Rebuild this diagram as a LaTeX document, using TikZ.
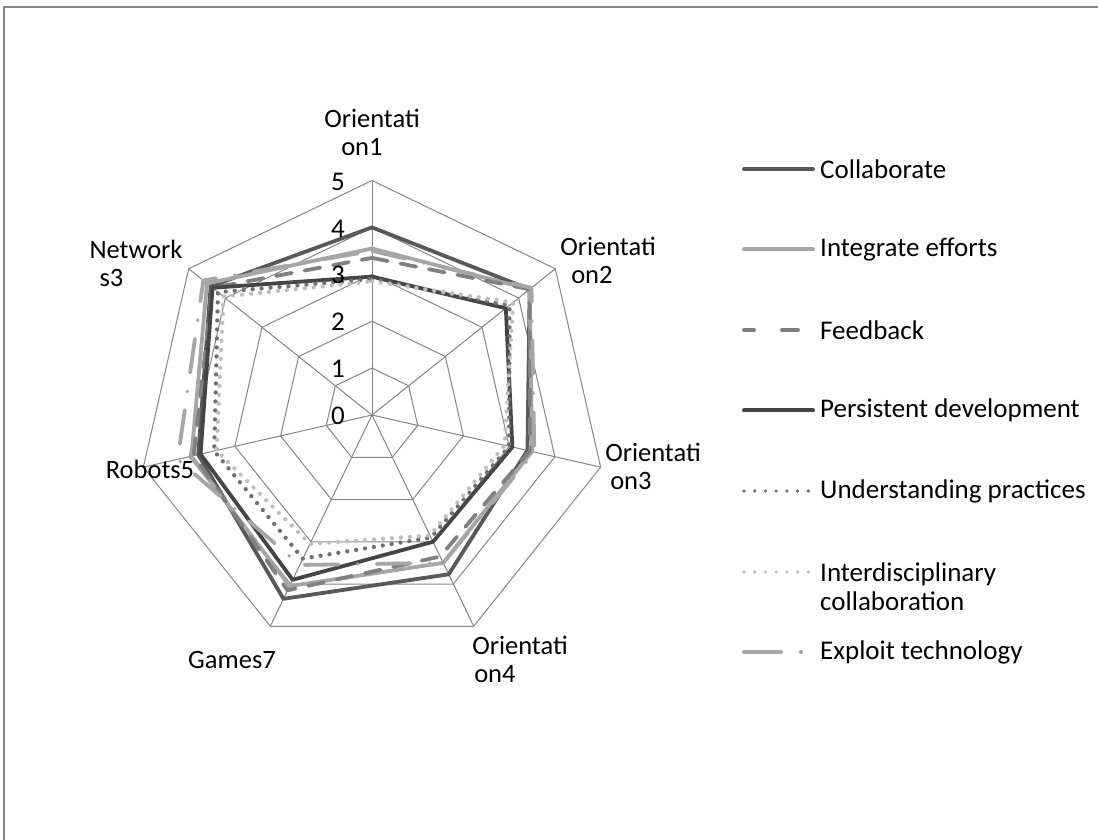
\documentclass[tikz,border=0pt]{standalone}
\usepackage{fontspec}
\setmainfont{Carlito}
\definecolor{gridc}{HTML}{868686}
\definecolor{cA}{HTML}{595959}
\definecolor{cB}{HTML}{A6A6A6}
\definecolor{cC}{HTML}{808080}
\definecolor{cD}{HTML}{454545}
\definecolor{cE}{HTML}{707070}
\definecolor{cF}{HTML}{BFBFBF}
\definecolor{cG}{HTML}{A6A6A6}
\def\U{46.9}
\newcommand\radarpoly[8]{\draw[#1] (90:{#2*\U}) -- (38.5714:{#3*\U}) -- (-12.8571:{#4*\U}) -- (-64.2857:{#5*\U}) -- (-115.7143:{#6*\U}) -- (-167.1429:{#7*\U}) -- (141.4286:{#8*\U}) -- cycle;}
\begin{document}
\begin{tikzpicture}[x=1pt,y=1pt,
  every node/.style={font=\fontsize{27}{29}\selectfont, text=black, inner sep=0pt},
  gridline/.style={draw=gridc, line width=1pt},
  frameline/.style={draw=gridc, line width=1.5pt},
  ser/.style={line width=3.8pt, line join=round},
  sCollab/.style={ser, draw=cA},
  sInteg/.style={ser, draw=cB},
  sFeed/.style={ser, draw=cC, line cap=round, dash pattern=on 16pt off 13pt},
  sPers/.style={ser, draw=cD},
  sUnder/.style={ser, draw=cE, line width=4.3pt, line cap=round, dash pattern=on 0pt off 9pt},
  sInter/.style={ser, draw=cF, line width=4.3pt, line cap=round, dash pattern=on 0pt off 9pt},
  sExpl/.style={ser, draw=cG, line cap=round, dash pattern=on 34pt off 19pt on 0pt off 19pt},
  legtext/.style={anchor=west, align=left},
  catlabel/.style={align=left, font=\fontsize{26.5}{28}\selectfont},
  ticklabel/.style={anchor=center}]
\useasboundingbox (0,0) rectangle (1098,839);
\fill[white] (0,0) rectangle (1098,839);
% chart frame (top and left edges visible)
\draw[frameline] (4,-2) -- (4,832) -- (1100,832);

\begin{scope}[shift={(372,424)}]
  % grid
  \foreach \r in {1,...,5}{
    \draw[gridline] (90:{\r*\U}) -- (38.5714:{\r*\U}) -- (-12.8571:{\r*\U}) -- (-64.2857:{\r*\U}) -- (-115.7143:{\r*\U}) -- (-167.1429:{\r*\U}) -- (141.4286:{\r*\U}) -- cycle;
  }
  \foreach \a in {90,38.5714,-12.8571,-64.2857,-115.7143,-167.1429,141.4286}{
    \draw[gridline] (0,0) -- (\a:{5*\U});
  }
  % series
  \radarpoly{sCollab}{4.0}{4.3}{3.4}{3.77}{4.35}{3.8}{4.4}
  \radarpoly{sInteg}{3.55}{4.3}{3.5}{3.5}{4.05}{3.95}{4.5}
  \radarpoly{sFeed}{3.35}{4.3}{3.45}{3.35}{4.15}{3.9}{4.35}
  \radarpoly{sPers}{2.95}{3.65}{3.07}{3.0}{3.9}{3.75}{4.35}
  \radarpoly{sUnder}{2.9}{3.75}{3.0}{2.9}{3.4}{3.45}{4.2}
  \radarpoly{sInter}{2.85}{3.85}{2.9}{2.85}{3.05}{3.4}{4.05}
  \radarpoly{sExpl}{3.5}{4.35}{3.55}{3.5}{3.55}{4.25}{4.6}
  % tick labels
  \foreach \k in {0,...,5}{
    \node[ticklabel] (t\k) at (-34,{\k*\U-1}) {\k};
  }
\end{scope}

% category labels
\node[catlabel] (o1) at (372,707) {Orientati\\\hspace*{17pt}on1};
\node[catlabel] (o2) at (608,579) {Orientati\\\hspace*{11pt}on2};
\node[catlabel] (o3) at (653,373) {Orientati\\\hspace*{5pt}on3};
\node[catlabel] (o4) at (520,180) {Orientati\\\hspace*{2pt}on4};
\node[catlabel] (g7) at (232,179) {Games7};
\node[catlabel] (r5) at (150,370) {Robots5};
\node[catlabel] (n3) at (136,576) {Network\\\hspace*{10pt}s3};

% legend
\node[legtext] (l1) at (820,670) {Collaborate};
\node[legtext] (l2) at (820,589.5) {Integrate efforts};
\node[legtext] (l3) at (820,509) {Feedback};
\node[legtext] (l4) at (820,428.5) {Persistent development};
\node[legtext] (l5) at (820,348) {Understanding practices};
\node[legtext] (l6) at (820,252) {Interdisciplinary\\collaboration};
\node[legtext] (l7) at (820,187) {Exploit technology};
\coordinate (m1) at (744,670);
\coordinate (m2) at (744,589.5);
\coordinate (m3) at (744,509);
\coordinate (m4) at (744,428.5);
\coordinate (m5) at (744,348);
\coordinate (m6) at (744,267);
\coordinate (m7) at (744,187);
\draw[sCollab, line width=4pt, line cap=round] (m1) -- ([xshift=-7pt]l1.west);
\draw[sInteg, line width=4pt, line cap=round] (m2) -- ([xshift=-7pt]l2.west);
\draw[sFeed, line width=4pt, dash pattern=on 10pt off 28pt on 16pt off 30pt] (m3) -- ([xshift=-7pt]l3.west);
\draw[sPers, line width=4pt, line cap=round] (m4) -- ([xshift=-7pt]l4.west);
\draw[sUnder, line width=3.6pt, dash pattern=on 0pt off 10.7pt] (m5) -- ([xshift=-7pt]l5.west);
\draw[sInter, line width=3.6pt, dash pattern=on 0pt off 10.7pt] (m6) -- (813,267);
\draw[sExpl, line width=4pt, dash pattern=on 37pt off 20pt on 0pt off 30pt] (m7) -- ([xshift=-7pt]l7.west);
\end{tikzpicture}
\end{document}
